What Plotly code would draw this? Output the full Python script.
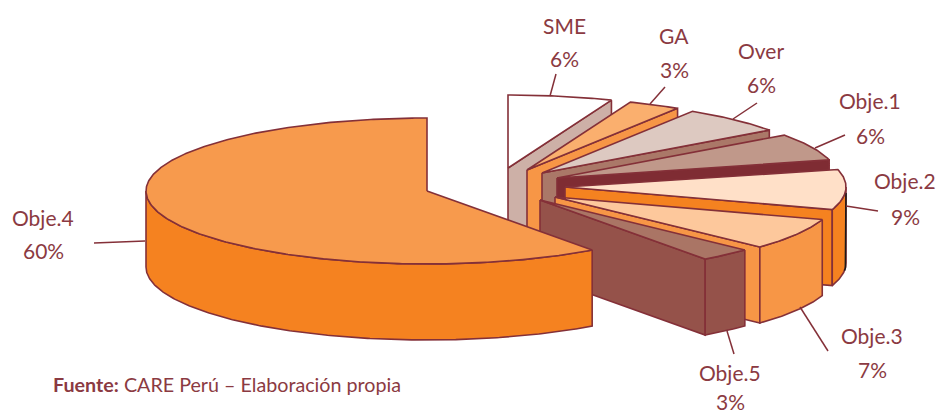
import numpy as np
import plotly.graph_objects as go

# ---- data ----
names = ["SME", "GA", "Over", "Obje.1", "Obje.2", "Obje.3", "Obje.5", "Obje.4"]
shares = [6, 3, 6, 6, 9, 7, 3, 60]

# ---- styles / layout constants ----
top_colors = ["#FFFFFF", "#FAAF6E", "#DDC9C1", "#C0988A", "#FFE0C8", "#FDC89C", "#AA7565", "#F79A4D"]
side_colors = ["#CDB0A7", "#F79646", "#AA7868", "#7F2C33", "#F58220", "#F79646", "#95524A", "#F58220"]
apex_x = [508, 527, 542, 557, 565, 555, 540, 427]
apex_y = [168, 170, 173, 178, 187, 197, 200, 191]
RX, RY, DEPTH = 281, 73, 76
EDGE = "#843038"
TEXT = "#8B3A42"
FONT = "Lato"

name_xy = [(564, 25), (674, 35), (761, 50), (870, 100), (905, 180), (872, 335), (730, 372), (43, 217)]
pct_xy = [(564, 58), (674, 69), (761, 84), (870, 135), (905, 216), (872, 369), (730, 401), (43, 250)]
leaders = [((550, 96), (556, 74)), ((650, 104), (665, 87)), ((733, 119), (757, 103)),
           ((815, 148), (845, 135)), ((846, 206), (878, 211)), ((800, 307), (828, 351)),
           ((727, 331), (734, 354)), ((145, 241), (94, 243))]


def rim(cx, cy, a0, a1, dy=0.0):
    n = max(2, int(abs(a1 - a0)) * 2)
    t = np.radians(np.linspace(a0, a1, n))
    return cx + RX * np.sin(t), cy - RY * np.cos(t) + dy


fig = go.Figure()


def poly(x, y, color):
    fig.add_trace(go.Scatter(x=list(x), y=list(y), mode="lines", fill="toself", fillcolor=color,
                             line=dict(color=EDGE, width=1.6), hoverinfo="skip", showlegend=False))


edges = np.cumsum([0] + shares) / sum(shares) * 360
for i in range(len(names)):
    a0, a1 = edges[i], edges[i + 1]
    cx, cy = apex_x[i], apex_y[i]
    # cut face at the clockwise end of the slice
    if a1 < 180:
        ex, ey = rim(cx, cy, a1, a1)
        poly([cx, ex[0], ex[0], cx, cx], [cy, ey[0], ey[0] + DEPTH, cy + DEPTH, cy], side_colors[i])
    # outer wall, front half only
    w0, w1 = max(a0, 90), min(a1, 270)
    if w0 < w1:
        tx, ty = rim(cx, cy, w0, w1)
        bx, by = rim(cx, cy, w0, w1, DEPTH)
        poly(np.r_[tx, bx[::-1], tx[0]], np.r_[ty, by[::-1], ty[0]], side_colors[i])
        if names[i] == "Obje.2":
            # dark shaded outer edge of this slice's wall
            sx, sy = rim(cx, cy, 90, 96, DEPTH)
            fig.add_trace(go.Scatter(x=[cx + RX, *sx], y=[cy + 6, *sy], mode="lines",
                                     line=dict(color="#1A1A1A", width=1.6),
                                     hoverinfo="skip", showlegend=False))
    # top face
    tx, ty = rim(cx, cy, a0, a1)
    poly(np.r_[cx, tx, cx], np.r_[cy, ty, cy], top_colors[i])

shapes = [dict(type="line", x0=a[0], y0=a[1], x1=b[0], y1=b[1], line=dict(color=EDGE, width=1.5))
          for a, b in leaders]

annotations = []
for nm, v, p, q in zip(names, shares, name_xy, pct_xy):
    annotations.append(dict(x=p[0], y=p[1], text=nm, showarrow=False, xanchor="center", yanchor="middle",
                            font=dict(family=FONT, size=21, color=TEXT)))
    annotations.append(dict(x=q[0], y=q[1], text=f"{v}%", showarrow=False, xanchor="center", yanchor="middle",
                            font=dict(family=FONT, size=21, color=TEXT)))
annotations.append(dict(x=51, y=384, text="<b>Fuente:</b> CARE Perú – Elaboración propia", showarrow=False,
                        xanchor="left", yanchor="middle", font=dict(family=FONT, size=19.7, color=TEXT)))

fig.update_layout(
    width=938, height=414, margin=dict(l=0, r=0, t=0, b=0),
    paper_bgcolor="white", plot_bgcolor="white", showlegend=False,
    xaxis=dict(range=[0, 938], visible=False, fixedrange=True),
    yaxis=dict(range=[414, 0], visible=False, fixedrange=True),
    shapes=shapes, annotations=annotations,
)
fig.write_html("out.html", config={"displayModeBar": False},
               post_script="document.body.style.margin='0';document.body.style.overflow='hidden';")
